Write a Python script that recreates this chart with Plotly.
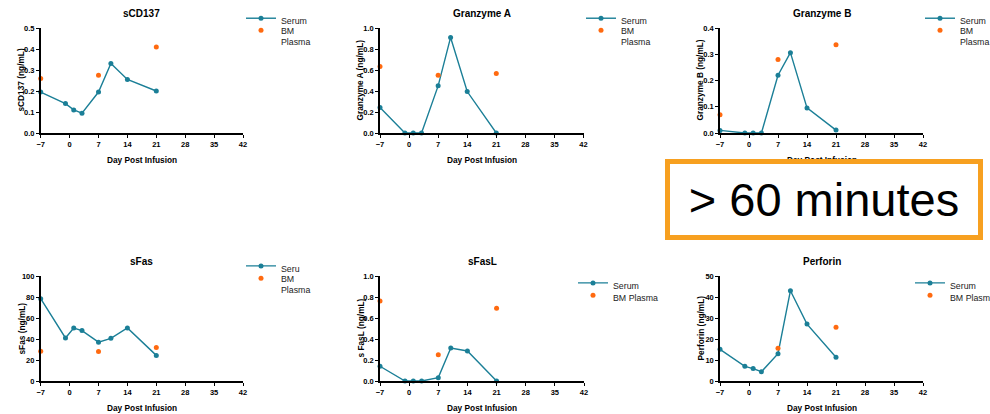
import plotly.graph_objects as go

# ---------------- data ----------------
days_serum = [-7, -1, 1, 3, 7, 10, 14, 21]
days_bm = [-7, 7, 21]
days_bm_perforin = [7, 21]
x_ticks = [-7, 0, 7, 14, 21, 28, 35, 42]

sCD137_serum = [0.195, 0.14, 0.11, 0.094, 0.195, 0.331, 0.255, 0.20]
sCD137_bm = [0.26, 0.275, 0.41]
granzA_serum = [0.242, 0, 0, 0, 0.449, 0.91, 0.395, 0]
granzA_bm = [0.634, 0.551, 0.567]
granzB_serum = [0.01, 0, 0, 0, 0.22, 0.306, 0.0955, 0.011]
granzB_bm = [0.07, 0.28, 0.336]
sFas_serum = [78.4, 41, 50.5, 48, 37, 40.6, 50.5, 24.4]
sFas_bm = [28.3, 28, 32]
sFasL_serum = [0.14, 0, 0, 0, 0.032, 0.314, 0.286, 0]
sFasL_bm = [0.762, 0.251, 0.692]
perforin_serum = [15.1, 7.0, 5.9, 4.4, 13, 43, 27.1, 11.3]
perforin_bm = [15.6, 25.6]

titles = ["sCD137", "Granzyme A", "Granzyme B", "sFas", "sFasL", "Perforin"]
y_titles = ["sCD137 (ng/mL)", "Granzyme A (ng/mL)", "Granzyme B (ng/mL)",
            "sFas (ng/mL)", "s FasL (ng/mL)", "Perforin (ng/mL)"]
serum_names = ["Serum", "Serum", "Serum", "Seru", "Serum", "Serum"]
bm_names = ["BM<br>Plasma", "BM<br>Plasma", "BM<br>Plasma", "BM<br>Plasma", "BM Plasma", "BM Plasm"]
y_max = [0.5, 1.0, 0.4, 100, 1.0, 50]
y_dtick = [0.1, 0.2, 0.1, 20, 0.2, 10]
y_fmt = [".1f", ".1f", ".1f", "d", ".1f", "d"]
x_title = "Day Post Infusion"
note_text = "> 60 minutes"

serum_sets = [sCD137_serum, granzA_serum, granzB_serum, sFas_serum, sFasL_serum, perforin_serum]
bm_sets = [sCD137_bm, granzA_bm, granzB_bm, sFas_bm, sFasL_bm, perforin_bm]
bm_days = [days_bm, days_bm, days_bm, days_bm, days_bm, days_bm_perforin]

# ---------------- layout geometry (pixels) ----------------
W, H = 990, 414
def px(x):
    return x / W
def py(y):
    return 1 - y / H

panel_x = [(40.7, 243), (380, 583.5), (720, 923), (40.7, 243), (380, 584), (720, 923)]
panel_y = [(28, 133), (28, 133), (28, 133), (276, 381), (276, 381), (276, 381)]
title_y = [13, 13, 13, 261, 261, 261]
xtitle_y = [160, 160, 160, 407.5, 407.5, 407.5]
ytitle_x = [21, 360, 700, 21, 360, 700]
legend_x = [241, 581, 920, 241, 573, 910]
serum_leg_y = [19, 19, 19, 266.7, 283.7, 283.7]
bm_leg_y = [31, 31, 31, 279, 296, 296]
LEG_OFF = 13  # item centre below legend top (px)

teal = "#1b7f97"
orange = "#ff6a10"
FONT = "Liberation Sans, Arial, sans-serif"

fig = go.Figure()
layout = dict(
    width=W, height=H, margin=dict(l=0, r=0, t=0, b=0, autoexpand=False),
    paper_bgcolor="white", plot_bgcolor="white", showlegend=True,
    font=dict(family=FONT, color="black"),
    annotations=[], shapes=[],
)

def legend_cfg(x, yc):
    return dict(
        x=px(x), y=py(yc - LEG_OFF), xanchor="left", yanchor="top",
        bgcolor="rgba(0,0,0,0)", font=dict(size=8.8, family=FONT, color="#222"),
        itemwidth=30, tracegroupgap=0, valign="top",
    )

for i in range(6):
    ax = "" if i == 0 else str(i + 1)
    lg_s = "legend" if i == 0 else "legend" + str(2 * i + 1)
    lg_b = "legend" + str(2 * i + 2)
    fig.add_trace(go.Scatter(
        x=days_serum, y=serum_sets[i], mode="lines+markers", name=serum_names[i],
        line=dict(color=teal, width=1.4), marker=dict(color=teal, size=5, symbol="circle"),
        cliponaxis=False, xaxis="x" + ax, yaxis="y" + ax, legend=lg_s, showlegend=True,
    ))
    fig.add_trace(go.Scatter(
        x=bm_days[i], y=bm_sets[i], mode="markers", name=bm_names[i],
        marker=dict(color=orange, size=5, symbol="circle"),
        cliponaxis=False, xaxis="x" + ax, yaxis="y" + ax, legend=lg_b, showlegend=True,
    ))
    x0, x1 = panel_x[i]
    yt, yb = panel_y[i]
    layout["xaxis" + ax] = dict(
        domain=[px(x0), px(x1)], anchor="y" + ax, range=[-7, 42],
        tickvals=x_ticks, ticks="outside", ticklen=3, tickwidth=1.3, tickcolor="black",
        showline=True, linecolor="black", linewidth=1.5, showgrid=False, zeroline=False,
        tickfont=dict(size=7.5, family=FONT, weight="bold", color="black"),
    )
    layout["yaxis" + ax] = dict(
        domain=[py(yb), py(yt)], anchor="x" + ax, range=[0, y_max[i]],
        dtick=y_dtick[i], tick0=0, tickformat=y_fmt[i],
        ticks="outside", ticklen=3, tickwidth=1.3, tickcolor="black",
        showline=True, linecolor="black", linewidth=1.5, showgrid=False, zeroline=False,
        tickfont=dict(size=7.5, family=FONT, weight="bold", color="black"),
    )
    layout[lg_s] = legend_cfg(legend_x[i], serum_leg_y[i])
    layout[lg_b] = legend_cfg(legend_x[i], bm_leg_y[i])
    cx = (x0 + x1) / 2
    layout["annotations"].append(dict(
        text=titles[i], x=px(cx), y=py(title_y[i]), xref="paper", yref="paper",
        showarrow=False, font=dict(size=10, family=FONT, weight="bold"),
        xanchor="center", yanchor="middle",
    ))
    layout["annotations"].append(dict(
        text=x_title, x=px(cx), y=py(xtitle_y[i]), xref="paper", yref="paper",
        showarrow=False, font=dict(size=8.3, family=FONT, weight="bold"),
        xanchor="center", yanchor="middle",
    ))
    layout["annotations"].append(dict(
        text=y_titles[i], x=px(ytitle_x[i]), y=py((yt + yb) / 2), xref="paper", yref="paper",
        showarrow=False, textangle=-90, font=dict(size=8.3, family=FONT, weight="bold"),
        xanchor="center", yanchor="middle",
    ))

# overlay note box (drawn last so it covers the text beneath)
layout["annotations"].append(dict(
    text=note_text, x=px(824), y=py(200), xref="paper", yref="paper",
    showarrow=False, font=dict(size=47, family=FONT, color="black"),
    xanchor="center", yanchor="middle",
    bgcolor="white", bordercolor="#f7a020", borderwidth=5, borderpad=2,
    width=304, height=67,
))

fig.update_layout(**layout)
fig.write_html(
    "out.html",
    config={"displayModeBar": False},
    post_script="document.body.style.margin='0';document.body.style.overflow='hidden';",
)
